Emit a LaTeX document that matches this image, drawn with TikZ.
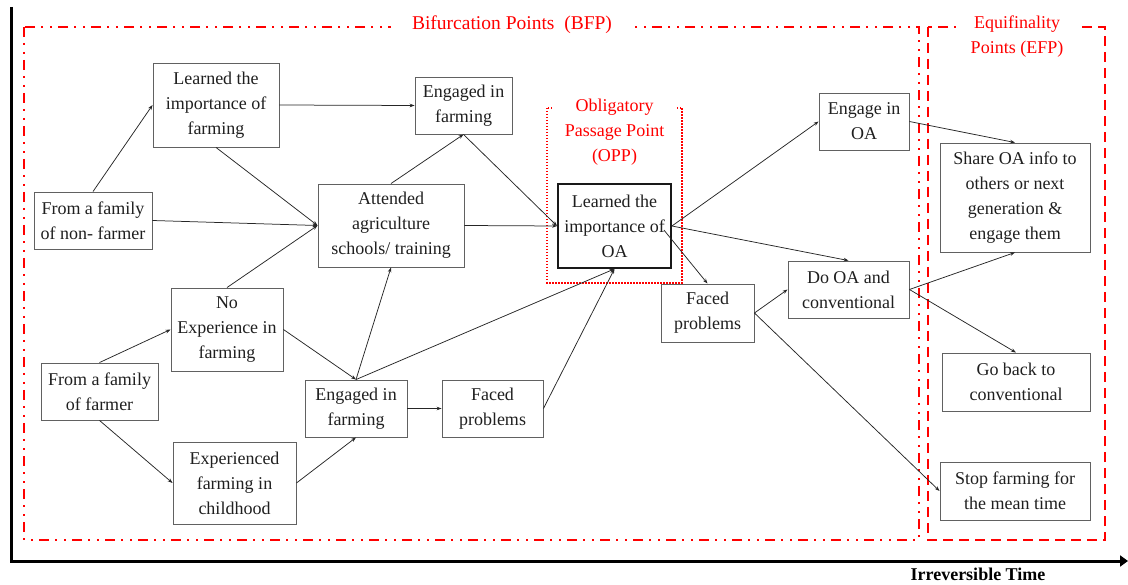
\documentclass[tikz,border=0pt]{standalone}
\usepackage{fontspec}
\setmainfont{Liberation Serif}
\usetikzlibrary{arrows.meta}

\begin{document}
\begin{tikzpicture}[x=1pt,y=-1pt,
  every node/.style={font=\fontsize{18}{25}\selectfont},
  stage/.style={draw=black!62, line width=0.9pt, align=center, inner sep=0pt, text=black!88},
  keystage/.style={stage, draw=black!90, line width=1.8pt},
  link/.style={draw=black!85, line width=0.75pt, -{Stealth[length=5pt,width=3.6pt]}},
  bfpframe/.style={draw=red, line width=1.8pt, dash pattern=on 10pt off 6pt on 2pt off 7pt on 2pt off 6pt},
  efpframe/.style={draw=red, line width=2pt, dash pattern=on 10pt off 6pt},
  oppframe/.style={draw=red, line width=1.5pt, dash pattern=on 1.5pt off 1.5pt},
  zonelabel/.style={text=red, fill=white, align=center, inner ysep=0pt},
]
\useasboundingbox (0,0) rectangle (1128,585);

% time axis
\coordinate (axtop) at (11,7);
\coordinate (axcorner) at (11,561);
\coordinate (axend) at (1128,561);
\draw[line width=3pt, line join=miter, -{Triangle[length=8pt,width=11pt]}] (axtop) -- (axcorner) -- (axend);
\node[font=\bfseries\fontsize{18}{22}\selectfont] (timelabel) at (978,574) {Irreversible Time};

% zones
\draw[bfpframe] (24,27) rectangle (919,540);
\draw[efpframe] (928,27) rectangle (1105,540);
\draw[oppframe] (547,108) rectangle (682,283);
\node[zonelabel, font=\fontsize{19.5}{25}\selectfont, inner xsep=21pt, minimum height=22pt] (bfp) at (512,25) {Bifurcation Points\ \ (BFP)};
\node[zonelabel, inner xsep=15pt] (efp) at (1017,37) {Equifinality\\Points (EFP)};
\node[zonelabel, minimum width=125pt, minimum height=80pt] (opp) at (614.5,132) {Obligatory\\Passage Point\\(OPP)};

% stages
\node[stage, minimum width=126pt, minimum height=84pt] (lif) at (216,105) {Learned the\\importance of\\farming};
\node[stage, minimum width=97pt,  minimum height=57pt] (eft) at (463.5,105.5) {Engaged in\\farming};
\node[stage, minimum width=118pt, minimum height=57pt] (fnf) at (93,220.5) {From a family\\of non- farmer};
\node[stage, minimum width=146pt, minimum height=83pt] (att) at (391,225.5) {Attended\\agriculture\\schools/ training};
\node[stage, minimum width=112pt, minimum height=83pt] (noe) at (227,329.5) {No\\Experience in\\farming};
\node[stage, minimum width=117pt, minimum height=57pt] (ff)  at (99.5,391.5) {From a family\\of farmer};
\node[stage, minimum width=123pt, minimum height=82pt] (exp) at (234.5,483) {Experienced\\farming in\\childhood};
\node[stage, minimum width=102pt, minimum height=57pt] (efb) at (356,408.5) {Engaged in\\farming};
\node[stage, minimum width=101pt, minimum height=57pt] (fpb) at (492.5,408.5) {Faced\\problems};
\node[keystage, minimum width=113pt, minimum height=84pt] (lio) at (614.5,226) {Learned the\\importance of\\OA};
\node[stage, minimum width=93pt,  minimum height=58pt] (fpr) at (707.5,313) {Faced\\problems};
\node[stage, minimum width=90pt,  minimum height=57pt] (eoa) at (864,121.5) {Engage in\\OA};
\node[stage, minimum width=121pt, minimum height=57pt] (doa) at (848.5,289.5) {Do OA and\\conventional};
\node[stage, minimum width=150pt, minimum height=109pt] (sha) at (1015,197.5) {Share OA info to\\others or next\\generation \&\\engage them};
\node[stage, minimum width=148pt, minimum height=58pt] (gbc) at (1016,382) {Go back to\\conventional};
\node[stage, minimum width=150pt, minimum height=58pt] (stp) at (1015,491) {Stop farming for\\the mean time};

% paths
\draw[link] (fnf.north) -- (lif.west);
\draw[link] (lif.south) -- (att.west);
\draw[link] (lif.east) -- (eft.west);
\draw[link] (fnf.east) -- (att.west);
\draw[link] (noe.north) -- (att.west);
\draw[link] (att.north) -- (eft.south);
\draw[link] (eft.south) -- (lio.west);
\draw[link] (att.east) -- (lio.west);
\draw[link] (ff.north) -- (noe.west);
\draw[link] (ff.south) -- (exp.west);
\draw[link] (exp.east) -- (efb.south);
\draw[link] (noe.east) -- (efb.north);
\draw[link] (efb.north) -- (att.south);
\draw[link] (efb.north) -- (lio.south);
\draw[link] (efb.east) -- (fpb.west);
\draw[link] (fpb.east) -- (lio.south);
\draw[link] (lio.east) -- (eoa.west);
\draw[link] (lio.east) -- (doa.north);
\draw[link] ([shift={(-8,4)}]lio.east) -- (fpr.north);
\draw[link] (fpr.east) -- (doa.west);
\draw[link] (fpr.east) -- (stp.west);
\draw[link] (eoa.east) -- (sha.north);
\draw[link] (doa.east) -- (sha.south);
\draw[link] (doa.east) -- (gbc.north);
\end{tikzpicture}
\end{document}
